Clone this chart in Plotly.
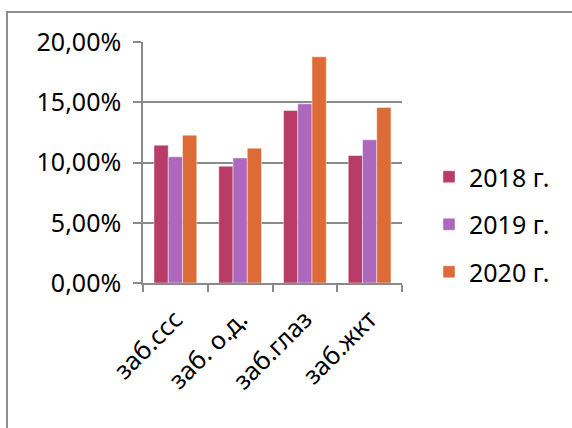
import plotly.graph_objects as go

# Disease categories and yearly shares (percent)
categories = ["заб.ссс", "заб. о.д.", "заб.глаз", "заб.жкт"]
years = ["2018 г.", "2019 г.", "2020 г."]
values_2018 = [11.44, 9.69, 14.32, 10.58]
values_2019 = [10.47, 10.38, 14.87, 11.88]
values_2020 = [12.27, 11.19, 18.77, 14.57]
tick_vals = [0, 5, 10, 15, 20]
tick_text = ["0,00%", "5,00%", "10,00%", "15,00%", "20,00%"]

colors = ["#B83B68", "#AD67BC", "#DD6B37"]
series = [values_2018, values_2019, values_2020]

FONT = "Noto Sans"
FS = 25
GRID = "#8a8a8a"

fig = go.Figure()
for name, vals, col in zip(years, series, colors):
    fig.add_trace(go.Bar(
        x=categories, y=vals, name=name, legendgroup=name,
        marker=dict(color=col, line=dict(color="rgba(255,255,255,0.45)", width=1)),
    ))

W, H = 572, 428
L, R, T, B = 143, 170, 42, 145
pw, ph = W - L - R, H - T - B

def px_x(x):
    return (x - L) / pw

def px_y(y):
    return (H - B - y) / ph

fig.update_layout(
    width=W, height=H,
    margin=dict(l=L, r=R, t=T, b=B, autoexpand=False),
    paper_bgcolor="white", plot_bgcolor="white",
    barmode="group", bargap=0.34, bargroupgap=0,
    font=dict(family=FONT, size=FS, color="#000000"),
    legend=dict(
        x=px_x(429), y=px_y(154), xanchor="left", yanchor="top",
        font=dict(family=FONT, size=FS, color="#000000"),
        tracegroupgap=12, itemwidth=30, bgcolor="rgba(0,0,0,0)",
    ),
    xaxis=dict(
        type="category", tickangle=-45, showline=True, linecolor=GRID, linewidth=1.5,
        ticks="outside", ticklen=7, tickcolor=GRID, tickwidth=1.5,
        tickson="boundaries", showgrid=False, ticklabelstandoff=10,
        tickfont=dict(family=FONT, size=FS),
    ),
    yaxis=dict(
        range=[0, 20], tickvals=tick_vals, ticktext=tick_text,
        showline=True, linecolor=GRID, linewidth=1.5,
        showgrid=True, gridcolor=GRID, gridwidth=1.5, zeroline=False,
        ticks="outside", ticklen=8, tickcolor=GRID, tickwidth=1.5,
        ticklabelstandoff=7, tickfont=dict(family=FONT, size=FS),
    ),
    shapes=[dict(
        type="rect", xref="paper", yref="paper",
        x0=px_x(7), x1=px_x(590), y0=px_y(445), y1=px_y(12),
        line=dict(color="#8f8f8f", width=2), fillcolor="rgba(0,0,0,0)", layer="below",
    )],
)

fig.write_html("out.html")
